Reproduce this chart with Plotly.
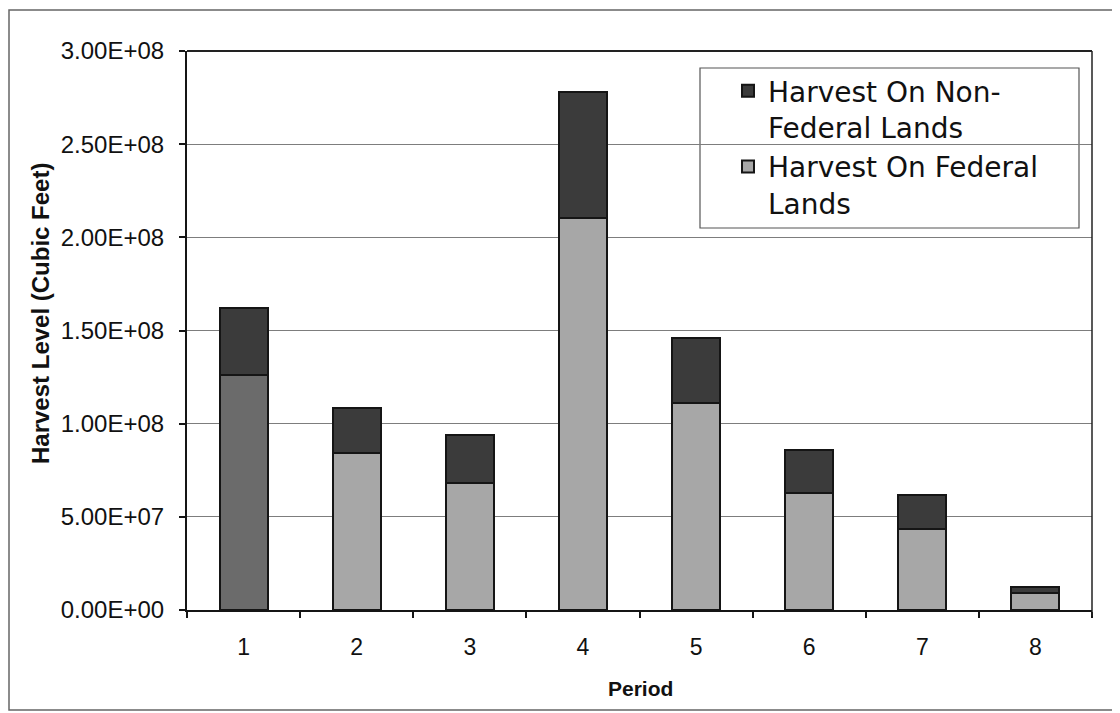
import plotly.graph_objects as go

periods = ["1", "2", "3", "4", "5", "6", "7", "8"]
federal = [126e6, 84.5e6, 68e6, 210.5e6, 111e6, 62.8e6, 43.7e6, 9.2e6]
non_federal = [36e6, 24e6, 25.7e6, 67.5e6, 35e6, 22.9e6, 17.8e6, 3.4e6]
y_ticks = [0, 5e7, 1e8, 1.5e8, 2e8, 2.5e8, 3e8]
y_tick_labels = ["0.00E+00", "5.00E+07", "1.00E+08", "1.50E+08", "2.00E+08", "2.50E+08", "3.00E+08"]

FED_LIGHT = "#a7a7a7"
FED_DARK = "#6b6b6b"   # first bar appears darker in the scan
NONFED = "#3b3b3b"
EDGE = "#151515"

# browser body margin shifts the page by 8 px; lay out in reference pixels
OFF = 8
W, H = 1120 - OFF, 713 - OFF
PL, PR, PT, PB = 187, 1092, 51, 610          # plot area in reference pixels
L, R, T, B = PL - OFF, W - (PR - OFF), PT - OFF, H - (PB - OFF)
pw, ph = PR - PL, PB - PT

def px(x):
    return (x - PL) / pw

def py(y):
    return (PB - y) / ph

FONT = "Liberation Sans, Arial, Helvetica, sans-serif"

fig = go.Figure()
fig.add_trace(go.Bar(
    x=periods[1:], y=federal[1:], name="Harvest On Federal<br>Lands",
    marker=dict(color=FED_LIGHT, line=dict(color=EDGE, width=2)),
))
fig.add_trace(go.Bar(
    x=periods[:1], y=federal[:1], name="Harvest On Federal Lands", showlegend=False,
    marker=dict(color=FED_DARK, line=dict(color=EDGE, width=2)),
))
fig.add_trace(go.Bar(
    x=periods, y=non_federal, name="Harvest On Non-<br>Federal Lands",
    marker=dict(color=NONFED, line=dict(color=EDGE, width=2)),
))

fig.update_layout(
    width=W, height=H,
    margin=dict(l=L, r=R, t=T, b=B, autoexpand=False),
    barmode="stack", bargap=0.575,
    paper_bgcolor="white", plot_bgcolor="white",
    font=dict(family=FONT, color="#111111"),
    showlegend=True,
    legend=dict(
        x=px(728), y=py(66), xanchor="left", yanchor="top",
        traceorder="reversed", valign="top",
        font=dict(size=28, color="#111111", family="DejaVu Sans, Liberation Sans, sans-serif"),
        borderwidth=0, bgcolor="rgba(0,0,0,0)",
    ),
    xaxis=dict(
        categoryorder="array", categoryarray=periods,
        showline=True, linecolor=EDGE, linewidth=2,
        ticks="outside", ticklen=6, tickcolor=EDGE, tickwidth=1.5,
        tickson="boundaries",
        tickfont=dict(size=23),
        ticklabelstandoff=15,
    ),
    yaxis=dict(
        range=[0, 3e8],
        tickvals=y_ticks, ticktext=y_tick_labels,
        showline=True, linecolor=EDGE, linewidth=2,
        ticks="outside", ticklen=6, tickcolor=EDGE, tickwidth=1.5,
        tickfont=dict(size=24),
        ticklabelstandoff=10,
        showgrid=True, gridcolor="#7d7d7d", gridwidth=1,
        zeroline=False,
    ),
    annotations=[
        dict(text="<b>Harvest Level (Cubic Feet)</b>", xref="paper", yref="paper",
             x=px(40), y=py(314), textangle=-90, showarrow=False,
             font=dict(size=24), xanchor="center", yanchor="middle"),
        dict(text="<b>Period</b>", xref="paper", yref="paper",
             x=px(640), y=py(688), showarrow=False,
             font=dict(size=21), xanchor="center", yanchor="middle"),
    ],
)

# top and right frame of the plot area
fig.add_shape(type="line", xref="paper", yref="paper", x0=0, x1=1, y0=1, y1=1,
              line=dict(color="#222222", width=2))
fig.add_shape(type="line", xref="paper", yref="paper", x0=1, x1=1, y0=py(616), y1=1,
              line=dict(color="#222222", width=1.5))
# legend box
fig.add_shape(type="rect", xref="paper", yref="paper",
              x0=px(700), x1=px(1079), y0=py(228), y1=py(68),
              line=dict(color="#555555", width=1.2), fillcolor="white", layer="below")
# outer chart border
fig.add_shape(type="rect", xref="paper", yref="paper",
              x0=px(9), x1=px(1130), y0=py(710), y1=py(10),
              line=dict(color="#666666", width=1.5), layer="below")

fig.write_html("out.html")
